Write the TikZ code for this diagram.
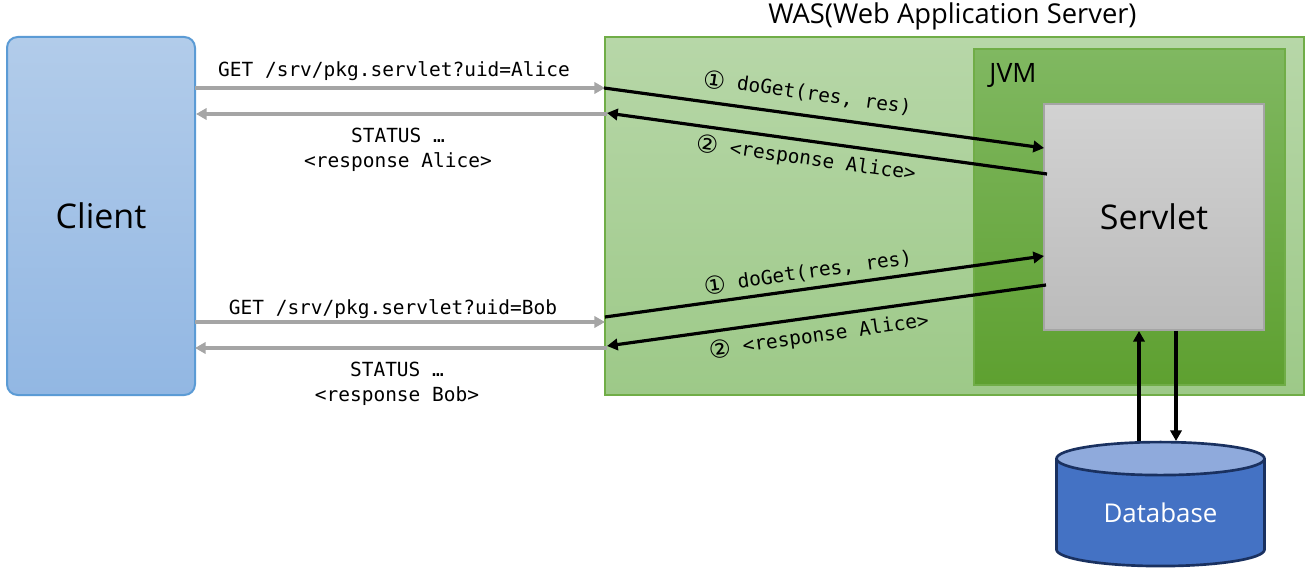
\documentclass[tikz,border=0pt]{standalone}
\usepackage{fontspec}
\setmainfont{Open Sans}
\newfontfamily\codefont{DejaVu Sans Mono}
\newfontfamily\numfont{DejaVu Sans}
\usetikzlibrary{arrows.meta,shapes.geometric}
\definecolor{clientline}{HTML}{5B9BD5}
\definecolor{wasline}{HTML}{70AD47}
\definecolor{dbline}{HTML}{1A3160}
\definecolor{dbfill}{HTML}{4472C4}
\definecolor{dbtop}{HTML}{8FAADC}
\definecolor{greyline}{HTML}{A5A5A5}
\newcommand{\circled}[1]{\raisebox{-1.8pt}{\numfont\fontsize{18.5}{19}\selectfont #1}}
\begin{document}
\begin{tikzpicture}[x=0.75pt,y=-0.75pt,>={Triangle[length=8pt,width=8.5pt]}]
\tikzstyle{clientbox} = [rectangle, rounded corners=8pt, draw=clientline, line width=1.5pt, top color={rgb,255:red,178;green,204;blue,234}, bottom color={rgb,255:red,146;green,183;blue,227}, minimum width=141pt, minimum height=268.5pt, inner sep=0pt] % client box
\tikzstyle{wasbox} = [rectangle, draw=wasline, line width=1.5pt, top color={rgb,255:red,183;green,215;blue,168}, bottom color={rgb,255:red,157;green,201;blue,136}, minimum width=524pt, minimum height=268.5pt, inner sep=0pt] % server box
\tikzstyle{jvmbox} = [rectangle, draw=wasline, line width=1.5pt, top color={rgb,255:red,128;green,184;blue,97}, middle color={rgb,255:red,110;green,176;blue,64}, bottom color={rgb,255:red,94;green,160;blue,48}, minimum width=233pt, minimum height=252pt, inner sep=0pt]
\tikzstyle{servletbox} = [rectangle, draw=greyline, line width=1.5pt, top color={rgb,255:red,210;green,210;blue,210}, bottom color={rgb,255:red,187;green,187;blue,187}, minimum width=165pt, minimum height=169.5pt, inner sep=0pt]
\tikzstyle{dbbox} = [cylinder, shape border rotate=90, aspect=0.29, draw=dbline, line width=2pt, cylinder uses custom fill, cylinder body fill=dbfill, cylinder end fill=dbtop, minimum width=156pt, minimum height=93pt, inner sep=0pt, text=white, font=\fontsize{19.4}{23}\selectfont]
\tikzstyle{grey arrow} = [->, draw=greyline, line width=2.4pt]
\tikzstyle{black arrow} = [->, draw=black, line width=2.4pt]
\tikzstyle{code} = [font=\codefont\fontsize{14.6}{19}\selectfont, align=center, inner sep=0pt]
\useasboundingbox (0,0) rectangle (1314,570);
% boxes
\node[clientbox] (client) at (101,216) {\raisebox{-1.5pt}{\fontsize{25.5}{30}\selectfont Client}};
\node[wasbox] (was) at (954.5,216) {};
\node[jvmbox] (jvm) at (1129.5,217) {};
\node[servletbox] (servlet) at (1154,217) {\raisebox{-1pt}{\fontsize{25.5}{30}\selectfont Servlet}};
\node[dbbox] (db) at (1160.5,513) {Database};
\node[font=\fontsize{20.5}{24}\selectfont, inner sep=0pt] (wastitle) at (952.5,16) {WAS(Web Application Server)};
\node[font=\fontsize{20}{24}\selectfont, inner sep=0pt] (jvmtitle) at (1013,75) {JVM};
% ends of the arrows
\coordinate (c1) at (195,88);
\coordinate (c2) at (196,114);
\coordinate (c3) at (195,322);
\coordinate (c4) at (195,348);
\coordinate (w1) at (605,88);
\coordinate (w2) at (607,114);
\coordinate (w3) at (605,322);
\coordinate (w4) at (607,348);
\coordinate (b1) at (604,88);
\coordinate (b2) at (607,113);
\coordinate (b3) at (605,317);
\coordinate (b4) at (607,346);
\coordinate (s1) at (1044,148);
\coordinate (s2) at (1047,174);
\coordinate (s3) at (1044,256);
\coordinate (s4) at (1046,285);
\coordinate (su) at (1139,331);
\coordinate (du) at (1139,441);
\coordinate (sd) at (1176,331);
\coordinate (dd) at (1176,441);
% client <-> was
\draw[grey arrow] (c1) -- (w1);
\draw[grey arrow] (w2) -- (c2);
\draw[grey arrow] (c3) -- (w3);
\draw[grey arrow] (w4) -- (c4);
% was <-> servlet
\draw[black arrow] (b1) -- (s1);
\draw[black arrow] (s2) -- (b2);
\draw[black arrow] (b3) -- (s3);
\draw[black arrow] (s4) -- (b4);
% servlet <-> database
\draw[black arrow] (du) -- (su);
\draw[black arrow] (sd) -- (dd);
% labels
\node[code] (req a) at (394,71) {GET /srv/pkg.servlet?uid=Alice};
\node[code] (resp a) at (398,150) {STATUS …\\<response Alice>};
\node[code] (req b) at (393,309) {GET /srv/pkg.servlet?uid=Bob};
\node[code] (resp b) at (397,384) {STATUS …\\<response Bob>};
\node[code, rotate=-8] (call a) at (807.5,93) {\circled{①} doGet(res, res)};
\node[code, rotate=-8] (back a) at (806,159) {\circled{②} <response Alice>};
\node[code, rotate=8] (call b) at (808,272) {\circled{①} doGet(res, res)};
\node[code, rotate=8] (back b) at (819,336) {\circled{②} <response Alice>};
\end{tikzpicture}
\end{document}
